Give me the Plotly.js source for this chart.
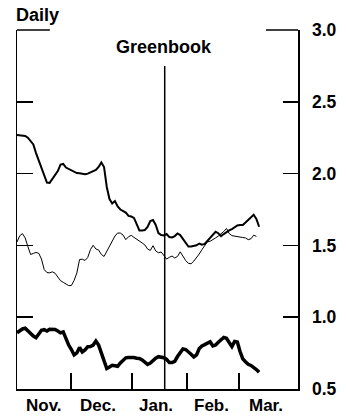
<!DOCTYPE html>
<html>
<head>
<meta charset="utf-8">
<script src="https://cdn.plot.ly/plotly-3.0.1.min.js"></script>
<style>html,body{margin:0;padding:0;background:#fff;}#chart{width:346px;height:416px;}</style>
</head>
<body>
<div id="chart"></div>
<script>
// Daily values (business-day index)
const topLine = [2.269,2.267,2.265,2.262,2.25,2.23,2.203,2.143,2.095,2.046,
1.99,1.938,1.935,1.962,1.987,2.018,2.063,2.067,2.042,2.032,
2.025,2.015,2.004,2.003,2.0,1.995,2.0,2.009,2.017,2.025,
2.046,2.077,2.046,1.907,1.823,1.792,1.809,1.771,1.75,1.74,
1.729,1.705,1.701,1.691,1.642,1.604,1.604,1.607,1.628,1.67,
1.677,1.642,1.586,1.572,1.569,1.579,1.558,1.555,1.565,1.583,
1.572,1.545,1.51,1.492,1.493,1.495,1.501,1.513,1.505,1.51,
1.532,1.555,1.579,1.595,1.585,1.565,1.579,1.593,1.604,1.614,
1.627,1.639,1.642,1.642,1.659,1.678,1.7,1.713,1.684,1.63];

const thinLine = [1.524,1.567,1.582,1.552,1.492,1.437,1.444,1.451,1.445,1.405,
1.332,1.311,1.309,1.316,1.306,1.283,1.254,1.243,1.234,1.22,
1.221,1.256,1.308,1.402,1.404,1.395,1.416,1.471,1.501,1.475,
1.468,1.437,1.423,1.461,1.496,1.529,1.565,1.586,1.586,1.572,
1.54,1.56,1.57,1.556,1.545,1.529,1.517,1.503,1.475,1.465,
1.498,1.461,1.449,1.454,1.426,1.405,1.417,1.426,1.412,1.423,
1.455,1.423,1.395,1.375,1.372,1.391,1.412,1.44,1.471,1.503,
1.525,1.529,1.538,1.552,1.565,1.579,1.597,1.618,1.583,1.568,
1.563,1.561,1.558,1.555,1.552,1.54,1.546,1.571,1.563];

const thickLine = [0.892,0.909,0.918,0.923,0.904,0.886,0.869,0.857,0.883,0.909,
0.913,0.904,0.916,0.918,0.914,0.904,0.891,0.898,0.846,0.806,
0.775,0.737,0.751,0.789,0.758,0.772,0.795,0.796,0.806,0.834,
0.806,0.749,0.695,0.643,0.653,0.665,0.662,0.658,0.681,0.702,
0.717,0.719,0.722,0.719,0.714,0.712,0.702,0.685,0.671,0.681,
0.7,0.714,0.725,0.721,0.718,0.706,0.684,0.684,0.693,0.726,
0.754,0.779,0.775,0.761,0.742,0.723,0.737,0.782,0.8,0.809,
0.82,0.829,0.8,0.806,0.826,0.841,0.859,0.853,0.824,0.795,
0.831,0.827,0.761,0.71,0.69,0.672,0.664,0.653,0.636,0.617];

const yTickVals = [0.5, 1.0, 1.5, 2.0, 2.5, 3.0];
const yTickText = ['0.5', '1.0', '1.5', '2.0', '2.5', '3.0'];
const monthNames = ['Nov.', 'Dec.', 'Jan.', 'Feb.', 'Mar.'];
const monthCenters = [9.75, 29.6, 51.1, 71.5, 91.6];
const monthBounds = [19.86, 42.3, 62.5, 81.6];
const greenbookDay = 54.3;

const dayIndex = (n) => Array.from({length: n}, (_, i) => i);
const FONT = '"Liberation Sans", Arial, Helvetica, sans-serif';

const traces = [
  {x: dayIndex(topLine.length), y: topLine, type: 'scatter', mode: 'lines',
   line: {color: '#000', width: 2}, hoverinfo: 'skip'},
  {x: dayIndex(thinLine.length), y: thinLine, type: 'scatter', mode: 'lines',
   line: {color: '#000', width: 1}, hoverinfo: 'skip', yaxis: 'y2'},
  {x: dayIndex(thickLine.length), y: thickLine, type: 'scatter', mode: 'lines',
   line: {color: '#000', width: 3.5}, hoverinfo: 'skip'}
];

const annotations = [
  {text: 'Daily', xref: 'paper', yref: 'paper', x: -0.011, y: 1.042,
   xanchor: 'left', yanchor: 'middle', showarrow: false,
   font: {family: FONT, size: 18, color: '#000', weight: 'bold'}},
  {text: 'Greenbook', xref: 'x', yref: 'paper', x: 53.9, y: 0.953,
   xanchor: 'center', yanchor: 'middle', showarrow: false,
   font: {family: FONT, size: 18, color: '#000', weight: 'bold'}}
];
monthNames.forEach((m, k) => annotations.push({
  text: m, xref: 'x', yref: 'paper', x: monthCenters[k], y: -0.046,
  xanchor: 'center', yanchor: 'middle', showarrow: false,
  font: {family: FONT, size: 17, color: '#000', weight: 'bold'}
}));

const layout = {
  width: 346, height: 416,
  margin: {l: 17, r: 48, t: 30, b: 27, pad: 0},
  paper_bgcolor: '#fff', plot_bgcolor: '#fff',
  showlegend: false,
  font: {family: FONT, color: '#000'},
  xaxis: {range: [0, 103.3], showgrid: false, zeroline: false,
    showline: true, linecolor: '#000', linewidth: 1.5,
    ticks: 'inside', ticklen: 16, tickwidth: 1.5, tickcolor: '#000',
    tickmode: 'array', tickvals: monthBounds, showticklabels: false, fixedrange: true},
  yaxis: {range: [0.5, 3.0], showgrid: false, zeroline: false,
    showline: true, linecolor: '#000', linewidth: 1.5,
    ticks: 'inside', ticklen: 16, tickwidth: 1.5, tickcolor: '#000',
    tickmode: 'array', tickvals: yTickVals, showticklabels: false, fixedrange: true},
  yaxis2: {range: [0.5, 3.0], overlaying: 'y', side: 'right',
    showgrid: false, zeroline: false,
    showline: true, linecolor: '#000', linewidth: 1.5,
    ticks: 'inside', ticklen: 15, tickwidth: 1.5, tickcolor: '#000',
    tickmode: 'array', tickvals: yTickVals, ticktext: yTickText,
    ticklabelstandoff: 9,
    tickfont: {family: FONT, size: 17.5, color: '#000', weight: 'bold'}, fixedrange: true},
  shapes: [
    {type: 'line', xref: 'paper', yref: 'paper', x0: 0, x1: 0.117, y0: 1, y1: 1,
     line: {color: '#000', width: 1.5}},
    {type: 'line', xref: 'paper', yref: 'paper', x0: 0.886, x1: 1, y0: 1, y1: 1,
     line: {color: '#000', width: 1.5}},
    {type: 'line', xref: 'x', yref: 'paper', x0: greenbookDay, x1: greenbookDay, y0: 0, y1: 0.9,
     line: {color: '#000', width: 1.5}}
  ],
  annotations: annotations
};

Plotly.newPlot('chart', traces, layout, {staticPlot: true, displayModeBar: false});
</script>
</body>
</html>
